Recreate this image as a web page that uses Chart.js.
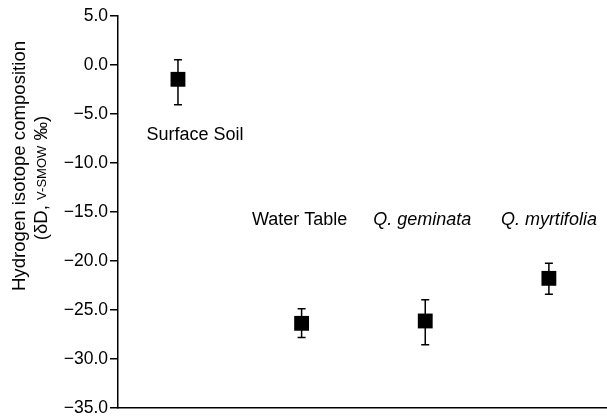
<!DOCTYPE html>
<html>
<head>
<meta charset="utf-8">
<script src="https://cdn.jsdelivr.net/npm/chart.js@4"></script>
<style>
  body { margin: 0; background: #fff; }
  #wrap { width: 607px; height: 418px; position: relative; }
</style>
</head>
<body>
<div id="wrap"><canvas id="myChart"></canvas></div>
<script>
const categories = ['Surface Soil', 'Water Table', 'Q. geminata', 'Q. myrtifolia'];
const meanValues = [-1.46, -26.36, -26.12, -21.77];
const upperValues = [0.53, -24.87, -23.95, -20.24];
const lowerValues = [-4.06, -27.80, -28.54, -23.40];
const yTicks = [5, 0, -5, -10, -15, -20, -25, -30, -35];

let ctx = document.getElementById('myChart').getContext('2d');
const FONT = '"Liberation Sans", Arial, Helvetica, sans-serif';

// where the category names sit (value on y axis, pixel shift in x)
const labelSpots = [
    { y: -7.1, dx: 17, italic: false },
    { y: -15.8, dx: -2, italic: false },
    { y: -15.8, dx: -3, italic: true },
    { y: -15.8, dx: 0, italic: true }
];

const errorBars = {
    id: 'errorBars',
    afterDatasetsDraw(chart) {
        const c = chart.ctx;
        const xs = chart.scales.x, ys = chart.scales.y;
        c.save();
        c.strokeStyle = '#000';
        c.lineWidth = 1.5;
        meanValues.forEach((m, i) => {
            const x = xs.getPixelForValue(i);
            const top = ys.getPixelForValue(upperValues[i]);
            const bot = ys.getPixelForValue(lowerValues[i]);
            c.beginPath();
            c.moveTo(x, top); c.lineTo(x, bot);
            c.moveTo(x - 4, top); c.lineTo(x + 4, top);
            c.moveTo(x - 4, bot); c.lineTo(x + 4, bot);
            c.stroke();
        });
        c.restore();
    }
};

const textLabels = {
    id: 'textLabels',
    afterDraw(chart) {
        const c = chart.ctx;
        const xs = chart.scales.x, ys = chart.scales.y;
        c.save();
        c.fillStyle = '#000';
        c.textAlign = 'center';
        c.textBaseline = 'middle';
        categories.forEach((name, i) => {
            const s = labelSpots[i];
            c.font = (s.italic ? 'italic ' : '') + '18px ' + FONT;
            c.fillText(name, xs.getPixelForValue(i) + s.dx, ys.getPixelForValue(s.y));
        });

        // y axis title, two lines, rotated
        c.save();
        c.translate(20, 166);
        c.rotate(-Math.PI / 2);
        c.font = '18.6px ' + FONT;
        c.fillText('Hydrogen isotope composition', 0, 0);
        c.restore();

        const parts = [['(\u03b4D, ', '18.6px '], ['V-SMOW', '13px '], [' \u2030)', '18.6px ']];
        let total = 0;
        parts.forEach(p => { c.font = p[1] + FONT; total += c.measureText(p[0]).width; });
        c.translate(42, 178);
        c.rotate(-Math.PI / 2);
        let px = -total / 2;
        c.textAlign = 'left';
        parts.forEach(p => {
            c.font = p[1] + FONT;
            c.fillText(p[0], px, 0);
            px += c.measureText(p[0]).width;
        });
        c.restore();
    }
};

const data = {
    datasets: [{
        label: 'dD',
        data: meanValues.map((v, i) => ({ x: i, y: v })),
        showLine: false,
        pointStyle: 'rect',
        pointRadius: 10.5,
        pointHoverRadius: 10.5,
        backgroundColor: '#000',
        borderColor: '#000',
        borderWidth: 0
    }]
};

const config = {
    type: 'scatter',
    data: data,
    options: {
        responsive: true,
        maintainAspectRatio: false,
        animation: false,
        layout: { autoPadding: false, padding: { top: 16, right: 0, left: 0, bottom: 0 } },
        plugins: { legend: { display: false }, tooltip: { enabled: false } },
        scales: {
            x: {
                type: 'linear',
                min: -0.485,
                max: 3.47,
                grid: { display: false },
                ticks: { display: false },
                border: { display: true, color: '#000', width: 1.5 },
                afterFit: s => { s.height = 10; }
            },
            y: {
                min: -35,
                max: 5,
                afterBuildTicks: s => { s.ticks = yTicks.map(v => ({ value: v })); },
                ticks: {
                    color: '#000',
                    padding: 2,
                    font: { family: FONT, size: 17.5, lineHeight: 0.7 },
                    callback: v => (v < 0 ? '\u2212' + Math.abs(v).toFixed(1) : v.toFixed(1))
                },
                grid: { display: true, drawOnChartArea: false, drawTicks: true, tickLength: 8, color: '#000', lineWidth: 1.5 },
                border: { display: true, color: '#000', width: 1.5 },
                afterFit: s => { s.width = 118; }
            }
        }
    },
    plugins: [errorBars, textLabels]
};

let myChart = new Chart(ctx, config);
</script>
</body>
</html>
